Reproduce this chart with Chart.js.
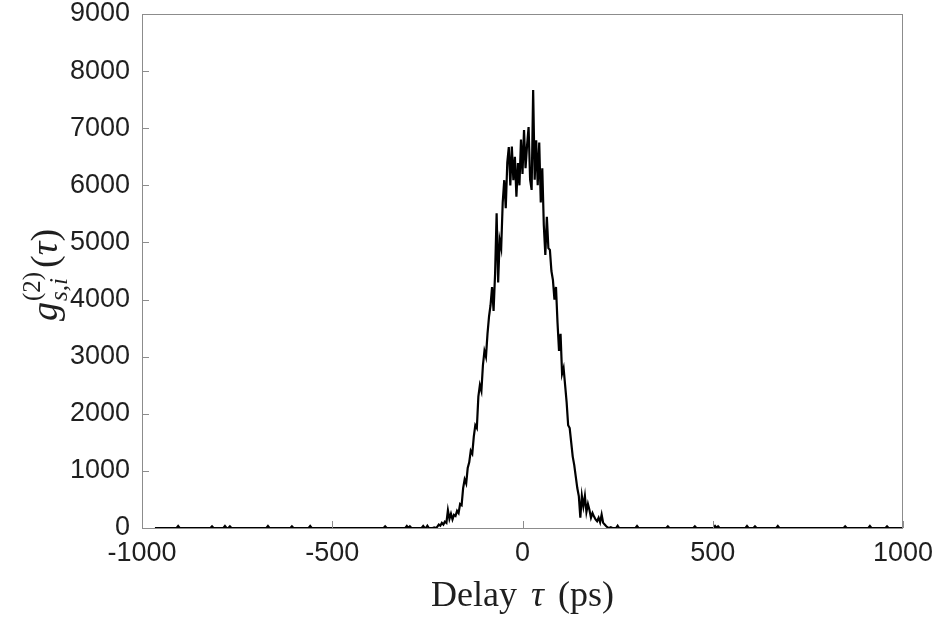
<!DOCTYPE html>
<html>
<head>
<meta charset="utf-8">
<script src="https://cdn.jsdelivr.net/npm/chart.js@4"></script>
<style>
  body { margin: 0; background: #fff; }
  #wrap { width: 938px; height: 620px; }
</style>
</head>
<body>
<div id="wrap"><canvas id="grafica" width="938" height="620"></canvas></div>
<script>
// baseline left of the peak (ps, counts)
const delaysIzq = [-966, -909, -905, -901, -820, -816, -812, -786, -782, -778, -773, -769, -765,
  -673, -669, -665, -610, -606, -602, -562, -558, -554, -365, -361, -357, -308, -304, -300, -296,
  -292, -265, -261, -257, -254, -250, -246];
const cuentasIzq = [0, 0, 35, 0, 0, 30, 0, 0, 35, 0, 0, 30, 0,
  0, 35, 0, 0, 30, 0, 0, 35, 0, 0, 30, 0, 0, 35, 0, 30,
  0, 0, 35, 0, 0, 40, 0];

// central peak, 4 ps bins starting at -240 ps
const inicioPico = -240;
const anchoBin = 4;
const cuentasPico = [
  0, 0, 10, 0, 20, 60, 40, 90, 60, 110,
  90, 310, 160, 250, 150, 230, 210, 300, 260, 420,
  400, 700, 850, 780, 1050, 1150, 1350, 1300, 1600, 1800,
  1750, 2300, 2500, 2400, 2850, 3100, 3000, 3400, 3700, 3900,
  4220, 3800, 4460, 5510, 4300, 5040, 4900, 5700, 6090, 5600,
  6400, 6670, 6000, 6680, 6090, 6500, 5800, 6390, 6000, 6800,
  6200, 6970, 6300, 6700, 7020, 6100, 5920, 7670, 6100, 6790,
  6000, 6750, 5700, 6300, 5300, 4780, 5450, 4900, 4870, 4500,
  4340, 4000, 4220, 3600, 3100, 3400, 2700, 2800, 2500, 2200,
  1800, 1750, 1500, 1250, 1100, 900, 700, 560, 180, 560,
  380, 560, 280, 420, 315, 180, 260, 200, 150, 120,
  180, 100, 235, 90, 60, 30, 10, 0, 15, 0, 0
];

// baseline right of the peak
const delaysDer = [246, 250, 254, 297, 301, 305, 378, 382, 386, 449, 453, 457, 502, 506, 510, 514, 518,
  586, 590, 594, 607, 611, 615, 667, 671, 675, 844, 848, 852, 909, 913, 917, 954, 958, 962, 1000];
const cuentasDer = [0, 40, 0, 0, 35, 0, 0, 30, 0, 0, 30, 0, 0, 35, 0, 30, 0,
  0, 35, 0, 0, 30, 0, 0, 35, 0, 0, 30, 0, 0, 35, 0, 0, 30, 0, 0];

const ticksX = [-1000, -500, 0, 500, 1000];
const ticksY = [0, 1000, 2000, 3000, 4000, 5000, 6000, 7000, 8000, 9000];

const puntos = [];
delaysIzq.forEach(function(d, i) { puntos.push({ x: d, y: cuentasIzq[i] }); });
cuentasPico.forEach(function(c, i) { puntos.push({ x: inicioPico + i * anchoBin, y: c }); });
delaysDer.forEach(function(d, i) { puntos.push({ x: d, y: cuentasDer[i] }); });

const colorEje = '#8c8c8c';
const colorTexto = '#1f1f1f';
const serif = '"Liberation Serif", "DejaVu Serif", serif';

// box around the plot, inward ticks and the axis titles
const marcoYTitulos = {
  id: 'marcoYTitulos',
  afterDraw(chart) {
    const ctx = chart.ctx;
    const a = chart.chartArea;
    const sx = chart.scales.x, sy = chart.scales.y;
    ctx.save();
    ctx.strokeStyle = colorEje;
    ctx.lineWidth = 1;
    ctx.strokeRect(a.left + 0.5, a.top + 0.5, a.right - a.left - 1, a.bottom - a.top);
    ctx.beginPath();
    ticksY.forEach(function(v) {
      const py = Math.round(sy.getPixelForValue(v)) + 0.5;
      ctx.moveTo(a.left, py); ctx.lineTo(a.left + 7, py);
    });
    ticksX.forEach(function(v) {
      const px = Math.round(sx.getPixelForValue(v)) + 0.5;
      ctx.moveTo(px, a.bottom); ctx.lineTo(px, a.bottom - 7);
    });
    ctx.stroke();

    // x title: Delay τ (ps)
    ctx.fillStyle = colorTexto;
    ctx.textBaseline = 'alphabetic';
    const fN = '36px ' + serif;
    const fI = 'italic 36px ' + serif;
    const hueco = 14;
    const partes = [['Delay', fN], ['\u03c4', fI], ['(ps)', fN]];
    let total = hueco * 2;
    partes.forEach(function(p) { ctx.font = p[1]; total += ctx.measureText(p[0]).width; });
    let x0 = (a.left + a.right) / 2 - total / 2;
    partes.forEach(function(p) {
      ctx.font = p[1];
      ctx.fillText(p[0], x0, 606);
      x0 += ctx.measureText(p[0]).width + hueco;
    });

    // y title: g^(2)_{s,i}(τ), rotated
    ctx.translate(57, 275);
    ctx.rotate(-Math.PI / 2);
    const fG = 'italic 38px ' + serif;
    const fP = '25px ' + serif;
    const fPi = 'italic 25px ' + serif;
    const fB = '38px ' + serif;
    ctx.font = fG; const wg = ctx.measureText('g').width;
    ctx.font = fP; const wsup = ctx.measureText('(2)').width;
    ctx.font = fPi; const wsub = ctx.measureText('s,i').width;
    const wi = Math.max(wsup, wsub) + 4;
    ctx.font = fB; const wpar = ctx.measureText('()').width;
    ctx.font = fG; const wt = ctx.measureText('\u03c4').width;
    const ancho = wg + 1 + wi + wpar + wt;
    let cx = -ancho / 2;
    ctx.font = fG; ctx.fillText('g', cx, 0); cx += wg + 1;
    ctx.font = fP; ctx.fillText('(2)', cx, -17);
    ctx.font = fPi; ctx.fillText('s,i', cx, 10);
    cx += wi;
    ctx.font = fB; ctx.fillText('(', cx, 0); cx += ctx.measureText('(').width;
    ctx.font = fG; ctx.fillText('\u03c4', cx, 0); cx += wt;
    ctx.font = fB; ctx.fillText(')', cx, 0);
    ctx.restore();
  }
};

const fuenteTicks = { family: '"Liberation Sans", Arial, sans-serif', size: 27 };
const etiqueta = function(v) { return String(v); };

new Chart(document.getElementById('grafica'), {
  type: 'scatter',
  data: {
    datasets: [{
      label: 'g2',
      data: puntos,
      showLine: true,
      borderColor: '#000000',
      borderWidth: 2.2,
      pointRadius: 0,
      tension: 0
    }]
  },
  options: {
    responsive: false,
    animation: false,
    devicePixelRatio: 1,
    layout: { padding: { left: 0, right: 35, top: 14, bottom: 0 } },
    plugins: { legend: { display: false }, tooltip: { enabled: false } },
    scales: {
      x: {
        type: 'linear', min: -1000, max: 1000,
        afterBuildTicks: function(s) { s.ticks = ticksX.map(function(v) { return { value: v }; }); },
        afterFit: function(s) { s.height = 92; s.paddingLeft = 0; s.paddingRight = 0; },
        ticks: { font: fuenteTicks, color: colorTexto, padding: 9, maxRotation: 0, callback: etiqueta },
        grid: { display: false, drawTicks: false },
        border: { display: false }
      },
      y: {
        type: 'linear', min: 0, max: 9000,
        afterBuildTicks: function(s) { s.ticks = ticksY.map(function(v) { return { value: v }; }); },
        afterFit: function(s) { s.width = 142; s.paddingTop = 0; s.paddingBottom = 0; },
        ticks: { font: fuenteTicks, color: colorTexto, padding: 12, callback: etiqueta },
        grid: { display: false, drawTicks: false },
        border: { display: false }
      }
    }
  },
  plugins: [marcoYTitulos]
});
</script>
</body>
</html>
